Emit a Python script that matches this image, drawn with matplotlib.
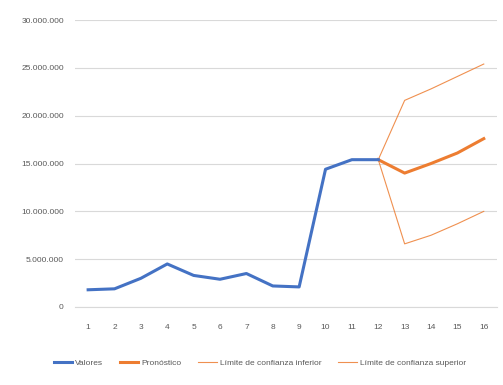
import matplotlib
matplotlib.use("Agg")
import matplotlib.pyplot as plt
from matplotlib.ticker import FuncFormatter

periods = list(range(1, 17))
valores = [1.8e6, 1.9e6, 3.0e6, 4.5e6, 3.3e6, 2.9e6, 3.5e6, 2.2e6, 2.1e6,
           14.4e6, 15.4e6, 15.4e6]
pron_x = [12, 13, 14, 15, 16]
pronostico = [15.4e6, 14.0e6, 15.0e6, 16.1e6, 17.6e6]
inferior = [15.4e6, 6.6e6, 7.5e6, 8.7e6, 10.0e6]
superior = [15.4e6, 21.6e6, 22.8e6, 24.1e6, 25.4e6]

BLUE = "#4472C4"
ORANGE = "#ED7D31"

plt.rcParams["font.family"] = ["Liberation Sans", "DejaVu Sans"]

fig = plt.figure(figsize=(5.03, 3.85), dpi=100)
ax = fig.add_axes([0.149, 0.2026, 0.839, 0.7454])

ax.plot(periods[:len(valores)], valores, color=BLUE, lw=2.2, label="Valores",
        solid_joinstyle="round", zorder=4)
ax.plot(pron_x, pronostico, color=ORANGE, lw=2.2, label="Pronóstico",
        solid_joinstyle="round", zorder=3)
ax.plot(pron_x, inferior, color=ORANGE, lw=0.8, alpha=0.85,
        label="Límite de confianza inferior", zorder=3)
ax.plot(pron_x, superior, color=ORANGE, lw=0.8, alpha=0.85,
        label="Límite de confianza superior", zorder=3)

ax.set_xlim(0.5, 16.5)
ax.set_ylim(0, 30e6)
ax.set_xticks(periods)
ax.set_yticks([i * 5e6 for i in range(7)])
ax.yaxis.set_major_formatter(
    FuncFormatter(lambda v, _: "0" if v == 0 else f"{int(v):,}".replace(",", ".")))
ax.grid(axis="y", color="#d9d9d9", lw=0.8)
ax.set_axisbelow(True)
for s in ["top", "right", "left"]:
    ax.spines[s].set_visible(False)
ax.spines["bottom"].set_color("#d9d9d9")
ax.tick_params(axis="y", length=0, labelsize=6, colors="#595959", pad=8)
ax.tick_params(axis="x", length=0, labelsize=6, colors="#595959", pad=12)

ax.legend(loc="upper center", bbox_to_anchor=(0.438, -0.155), ncol=4, frameon=False,
          fontsize=6, handlelength=2.2, columnspacing=2.0, handletextpad=0.4,
          labelcolor="#595959")

fig.savefig("out.png", dpi=100)
